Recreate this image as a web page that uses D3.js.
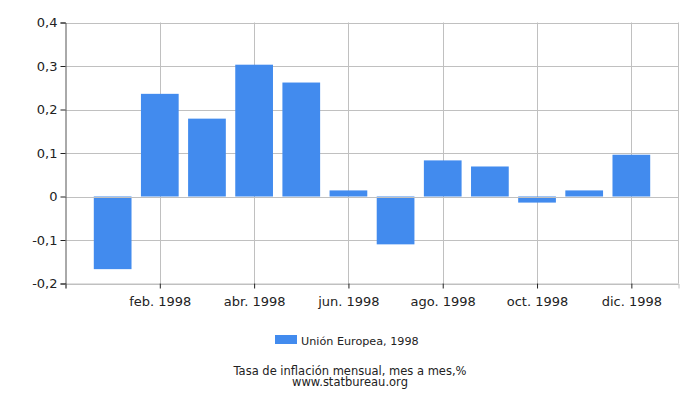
<!DOCTYPE html>
<html lang="en">
<head>
  <meta charset="utf-8"/>
  <script src="https://d3js.org/d3.v7.min.js"></script>
  <style>
    body { margin: 0; background: #fff; }
    text { font-family: "DejaVu Sans", sans-serif; fill: #222; }
    .grid line { stroke: #c0c0c0; stroke-width: 1px; }
  </style>
</head>
<body>
<div id="chart"></div>
<script>
  // Monthly inflation, month over month, %
  const months = ["ene. 1998", "feb. 1998", "mar. 1998", "abr. 1998", "may. 1998", "jun. 1998",
                  "jul. 1998", "ago. 1998", "sep. 1998", "oct. 1998", "nov. 1998", "dic. 1998"];
  const values = [-0.167, 0.236, 0.179, 0.303, 0.262, 0.014, -0.110, 0.083, 0.069, -0.014, 0.014, 0.096];
  const yTicks = [-0.2, -0.1, 0, 0.1, 0.2, 0.3, 0.4];
  const labelledMonths = [1, 3, 5, 7, 9, 11];
  const seriesName = "Unión Europea, 1998";

  const width = 700, height = 400;
  const plotLeft = 65.5, plotRight = 678.5, plotTop = 22.5, plotBottom = 283.5;

  const svg = d3.select("#chart").append("svg")
    .attr("width", width)
    .attr("height", height);

  // month slots 0..13, bars sit on 1..12
  const x = d3.scaleLinear().domain([0, 13]).range([plotLeft, plotRight]);
  const y = d3.scaleLinear().domain([-0.2, 0.4]).range([plotBottom, plotTop]);
  const step = x(1) - x(0);
  const barW = step * 0.8;

  const fmt = v => v === 0 ? "0" : d3.format(".1f")(v).replace(".", ",").replace("−", "-");

  // grid
  const grid = svg.append("g").attr("class", "grid");
  grid.selectAll(".h").data(yTicks).enter().append("line")
    .attr("x1", plotLeft).attr("x2", plotRight)
    .attr("y1", d => Math.round(y(d)) + 0.5).attr("y2", d => Math.round(y(d)) + 0.5);
  grid.selectAll(".v").data(labelledMonths).enter().append("line")
    .attr("x1", d => Math.round(x(d + 1)) + 0.5).attr("x2", d => Math.round(x(d + 1)) + 0.5)
    .attr("y1", plotTop).attr("y2", plotBottom);
  grid.append("line").attr("x1", plotRight).attr("x2", plotRight).attr("y1", plotTop).attr("y2", plotBottom);

  // bars
  svg.append("g").selectAll("rect").data(values).enter().append("rect")
    .attr("x", (d, i) => x(i + 1) - barW / 2)
    .attr("width", barW)
    .attr("y", d => y(Math.max(0, d)))
    .attr("height", d => Math.abs(y(d) - y(0)))
    .attr("fill", "#428bee");

  // zero line over bars
  svg.append("line")
    .attr("x1", plotLeft).attr("x2", plotRight)
    .attr("y1", Math.round(y(0)) + 0.5).attr("y2", Math.round(y(0)) + 0.5)
    .attr("stroke", "#c0c0c0");

  // y axis
  const yAxis = svg.append("g")
    .attr("transform", `translate(${plotLeft},0)`)
    .call(d3.axisLeft(y).tickValues(yTicks).tickFormat(fmt).tickSize(5).tickPadding(3));
  yAxis.select(".domain").attr("stroke", "#555");
  yAxis.selectAll(".tick line").attr("stroke", "#222");
  yAxis.selectAll("text").attr("font-size", 13);

  // x axis
  const xAxis = svg.append("g")
    .attr("transform", `translate(0,${plotBottom})`)
    .call(d3.axisBottom(x)
      .tickValues([0].concat(labelledMonths.map(m => m + 1)))
      .tickFormat(d => d === 0 ? "" : months[d - 1])
      .tickSize(5).tickPadding(8));
  xAxis.select(".domain").attr("stroke", "#c0c0c0");
  xAxis.selectAll(".tick line").attr("stroke", "#222");
  xAxis.selectAll("text").attr("font-size", 13);

  // legend
  svg.append("rect").attr("x", 275).attr("y", 335).attr("width", 22).attr("height", 9).attr("fill", "#428bee");
  svg.append("text").attr("x", 301).attr("y", 345).attr("font-size", 11.2).text(seriesName);

  // caption
  svg.append("text").attr("x", 350).attr("y", 375).attr("text-anchor", "middle")
    .attr("font-size", 11.5).text("Tasa de inflación mensual, mes a mes,%");
  svg.append("text").attr("x", 350).attr("y", 386).attr("text-anchor", "middle")
    .attr("font-size", 11.5).text("www.statbureau.org");
</script>
</body>
</html>
